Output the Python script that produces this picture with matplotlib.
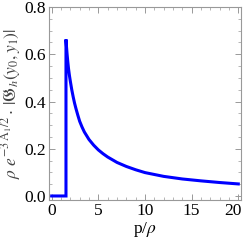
#Import needed packages
import matplotlib
matplotlib.use('Agg')
import matplotlib.pyplot as plt
import matplotlib.transforms as mtransforms
from matplotlib.ticker import MultipleLocator, FormatStrFormatter

#Values
p_over_rho = [0, 1.53, 1.53, 1.58, 1.65, 1.72, 1.8, 1.9, 2.0, 2.15, 2.3, 2.45, 2.6, 2.8, 3.0,
              3.25, 3.5, 4.0, 4.5, 5.0, 5.5, 6.0, 7.0, 8.0, 9.0, 10.0, 12.0, 14.0, 16.0, 18.0, 20.0]
g_value = [0, 0, 0.663, 0.635, 0.60, 0.57, 0.54, 0.51, 0.485, 0.45, 0.42, 0.393, 0.37, 0.342, 0.316,
           0.292, 0.271, 0.239, 0.215, 0.195, 0.179, 0.165, 0.142, 0.125, 0.111, 0.099, 0.083, 0.072,
           0.064, 0.057, 0.051]
x_ticks = [0, 5, 10, 15, 20]

plt.rcParams['font.family'] = ['Liberation Serif', 'DejaVu Serif']
plt.rcParams['mathtext.fontset'] = 'stix'

fig = plt.figure(figsize=(2.45, 2.40), dpi=100)
ax = fig.add_axes([0.2, 0.1667, 0.784, 0.804])

ax.plot(p_over_rho, g_value, color='#0000ff', lw=2.2, solid_joinstyle='miter')

ax.set_xlim(-0.29, 20.3)
ax.set_ylim(-0.017, 0.8)
ax.set_xticks(x_ticks, [str(t) for t in x_ticks])
ax.xaxis.set_minor_locator(MultipleLocator(1))
ax.yaxis.set_major_locator(MultipleLocator(0.2))
ax.yaxis.set_minor_locator(MultipleLocator(0.05))
ax.yaxis.set_major_formatter(FormatStrFormatter('%.1f'))

#Mathematica-like frame
for s in ax.spines.values():
    s.set_color('#999999')
    s.set_linewidth(0.8)
ax.tick_params(which='both', direction='in', top=True, right=True, color='#999999',
               labelsize=12.5, labelcolor='black', pad=2)
ax.tick_params(which='major', length=4, width=0.7)
ax.tick_params(which='minor', length=2, width=0.5)

ax.set_xlabel(r'p/$\rho$', fontsize=12.5, labelpad=1)
ax.set_ylabel(r'$\rho\ e^{-3\,\mathrm{A}_1/2}\cdot\,|\mathfrak{G}_h(y_0,y_1)|$', fontsize=12.5, labelpad=1,
              color='#444444')

#Pull the "20" label in a little so it stays inside the image
for lab in ax.get_xticklabels():
    if lab.get_text() == '20':
        lab.set_transform(lab.get_transform() + mtransforms.ScaledTranslation(-5 / 100, 0, fig.dpi_scale_trans))

fig.savefig('out.png', dpi=100)
